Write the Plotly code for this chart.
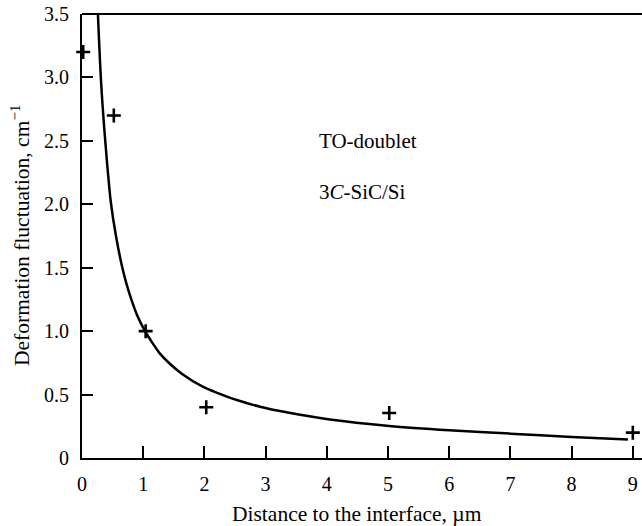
import plotly.graph_objects as go

# Measured data points (+ markers)
pts_x = [0.02, 0.52, 1.04, 2.03, 5.02, 9.0]
pts_y = [3.20, 2.70, 1.00, 0.40, 0.355, 0.20]

# Fitted curve
curve_x = [0.26, 0.31, 0.36, 0.39, 0.42, 0.47, 0.555, 0.65, 0.72, 0.81, 0.91,
           1.03, 1.155, 1.27, 1.44, 1.63, 1.98, 2.23, 2.53, 2.91, 3.34, 4.05,
           5.02, 6.0, 7.0, 8.0, 8.92]
curve_y = [3.5, 2.98, 2.62, 2.44, 2.27, 2.02, 1.75, 1.52, 1.385, 1.245, 1.115,
           1.0, 0.904, 0.825, 0.741, 0.665, 0.56, 0.51, 0.457, 0.404, 0.36, 0.303,
           0.252, 0.218, 0.192, 0.166, 0.145]

x_ticks = [0, 1, 2, 3, 4, 5, 6, 7, 8, 9]
x_ticktext = ["0", "1", "2", "3", "4", "5", "6", "7", "8", "9"]
y_ticks = [0, 0.5, 1.0, 1.5, 2.0, 2.5, 3.0, 3.5]
y_ticktext = ["0", "0.5", "1.0", "1.5", "2.0", "2.5", "3.0", "3.5"]

x_title = "Distance to the interface, µm"
y_title = "Deformation fluctuation, cm<sup>−1</sup>"
label1 = "TO-doublet"
label2 = "3<i>C</i>-SiC/Si"

FONT = "Liberation Serif, Times New Roman, serif"

fig = go.Figure()
fig.add_trace(go.Scatter(
    x=curve_x, y=curve_y, mode="lines",
    line=dict(color="black", width=2.5, shape="spline", smoothing=0.9),
    hoverinfo="skip", showlegend=False))
fig.add_trace(go.Scatter(
    x=pts_x, y=pts_y, mode="markers",
    marker=dict(symbol="cross-thin", size=10, color="black",
                line=dict(color="black", width=2.6)),
    showlegend=False, cliponaxis=False))

fig.update_layout(
    width=642, height=526,
    margin=dict(l=82, r=0, t=14, b=68),
    paper_bgcolor="white", plot_bgcolor="white",
    font=dict(family=FONT, size=20, color="black"),
    xaxis=dict(range=[0, 9.15], tickvals=x_ticks, ticktext=x_ticktext,
               ticks="inside", ticklen=12, tickwidth=1.5, tickcolor="black",
               showline=True, linecolor="black", linewidth=2,
               showgrid=False, zeroline=False, ticklabelstandoff=7,
               tickfont=dict(family=FONT, size=20)),
    yaxis=dict(range=[0, 3.5], tickvals=y_ticks, ticktext=y_ticktext,
               ticks="inside", ticklen=11, tickwidth=1.5, tickcolor="black",
               showline=True, linecolor="black", linewidth=2,
               showgrid=False, zeroline=False, ticklabelstandoff=7,
               tickfont=dict(family=FONT, size=20)),
    shapes=[dict(type="line", xref="paper", yref="paper", x0=0, x1=1, y0=1, y1=1,
                 line=dict(color="black", width=2))],
    annotations=[
        dict(text=x_title, xref="paper", yref="paper", x=(357 - 82) / 560, y=(458 - 514) / 444,
             xanchor="center", yanchor="middle", showarrow=False,
             font=dict(family=FONT, size=21.5)),
        dict(text=y_title, xref="paper", yref="paper", x=(20 - 82) / 560, y=0.5,
             xanchor="center", yanchor="middle", showarrow=False, textangle=-90,
             font=dict(family=FONT, size=21.5)),
        dict(text=label1, xref="x", yref="y", x=3.84, y=2.50,
             xanchor="left", yanchor="middle", showarrow=False,
             font=dict(family=FONT, size=21)),
        dict(text=label2, xref="x", yref="y", x=3.84, y=2.10,
             xanchor="left", yanchor="middle", showarrow=False,
             font=dict(family=FONT, size=21)),
    ],
)

fig.write_html("out.html")
